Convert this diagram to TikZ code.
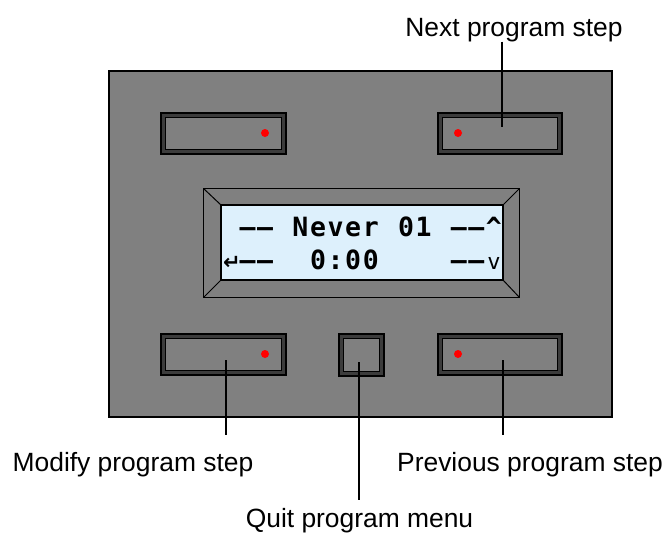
\documentclass[tikz,border=0pt]{standalone}
\usepackage{fontspec}
\setmainfont{Liberation Sans}
\newfontfamily\lcdfont{DejaVu Sans Mono}
\newfontfamily\symfont{DejaVu Sans}
\definecolor{panelgray}{RGB}{128,128,128}
\definecolor{bandgray}{RGB}{60,60,60}
\definecolor{lcdblue}{RGB}{221,240,252}
\definecolor{dotred}{RGB}{255,0,0}
\newcommand\lc[1]{\makebox[17.6pt][c]{#1}}
\tikzset{
  btn/.style={draw=black, line width=2pt, fill=bandgray, inner sep=0pt, outer sep=0pt,
    path picture={\draw[black, line width=1pt, fill=panelgray]
      ([shift={(4.5pt,-4.5pt)}]path picture bounding box.north west) rectangle
      ([shift={(-4.5pt,4.5pt)}]path picture bounding box.south east);}},
  reddot/.style={circle, fill=dotred, inner sep=0pt, minimum size=8pt},
  lbl/.style={font=\fontsize{26.4}{30}\selectfont, inner sep=0pt, anchor=base},
  lcdtext/.style={font=\lcdfont\bfseries\fontsize{26.5}{30}\selectfont, inner sep=0pt, anchor=base west},
  leader/.style={draw=black, line width=1.2pt},
}
\begin{document}
\begin{tikzpicture}[x=1pt, y=-1pt]
\useasboundingbox (0,0) rectangle (668,538);
% panel
\draw[fill=panelgray, line width=1.5pt] (109,71) rectangle (612,417);
% buttons
\node[btn, minimum width=125pt, minimum height=41pt] (btl) at (223.5,133.5) {};
\node[btn, minimum width=124pt, minimum height=41pt] (btr) at (500,133.5) {};
\node[btn, minimum width=125pt, minimum height=41pt] (bbl) at (223.5,354.5) {};
\node[btn, minimum width=124pt, minimum height=41pt] (bbr) at (500,354.5) {};
\node[btn, minimum width=45pt, minimum height=42pt] (bq) at (361.5,355) {};
\node[reddot] (dtl) at (265,133) {};
\node[reddot] (dtr) at (458,133) {};
\node[reddot] (dbl) at (265,354) {};
\node[reddot] (dbr) at (458,354) {};
% LCD
\draw[fill=panelgray, line width=1.2pt] (203.5,188.5) rectangle (519.5,297.5);
\draw[fill=lcdblue, line width=1.2pt] (221,205) rectangle (503,280);
\draw[line width=1pt] (203.5,188.5) -- (221,205) (519.5,188.5) -- (503,205)
  (203.5,297.5) -- (221,280) (519.5,297.5) -- (503,280);
\node[lcdtext] (l1) at (221,236) {\lc{ }\lc{–}\lc{–}\lc{ }\lc{N}\lc{e}\lc{v}\lc{e}\lc{r}\lc{ }\lc{0}\lc{1}\lc{ }\lc{–}\lc{–}\lc{\^{}}};
\node[lcdtext] (l2) at (221,269) {\lc{\hspace{4pt}\symfont\bfseries\fontsize{21}{24}\selectfont ↵}\lc{–}\lc{–}\lc{ }\lc{ }\lc{0}\lc{:}\lc{0}\lc{0}\lc{ }\lc{ }\lc{ }\lc{ }\lc{–}\lc{–}\lc{\mdseries\fontsize{22}{24}\selectfont v}};
% labels
\node[lbl] (lnext) at (514,36) {Next program step};
\node[lbl] (lmod) at (133,471) {Modify program step};
\node[lbl] (lprev) at (530,471) {Previous program step};
\node[lbl] (lquit) at (359.5,527) {Quit program menu};
% leaders
\coordinate (cnext) at (502,127);
\coordinate (cmod) at (226,360);
\coordinate (cmodend) at (226,435);
\coordinate (cprev) at (503,360);
\coordinate (cprevend) at (503,435);
\coordinate (cquit) at (359,362);
\coordinate (cquitend) at (359,500);
\draw[leader] (lnext.south -| cnext) -- (cnext);
\draw[leader] (cmod) -- (cmodend);
\draw[leader] (cprev) -- (cprevend);
\draw[leader] (cquit) -- (cquitend);
\end{tikzpicture}
\end{document}
